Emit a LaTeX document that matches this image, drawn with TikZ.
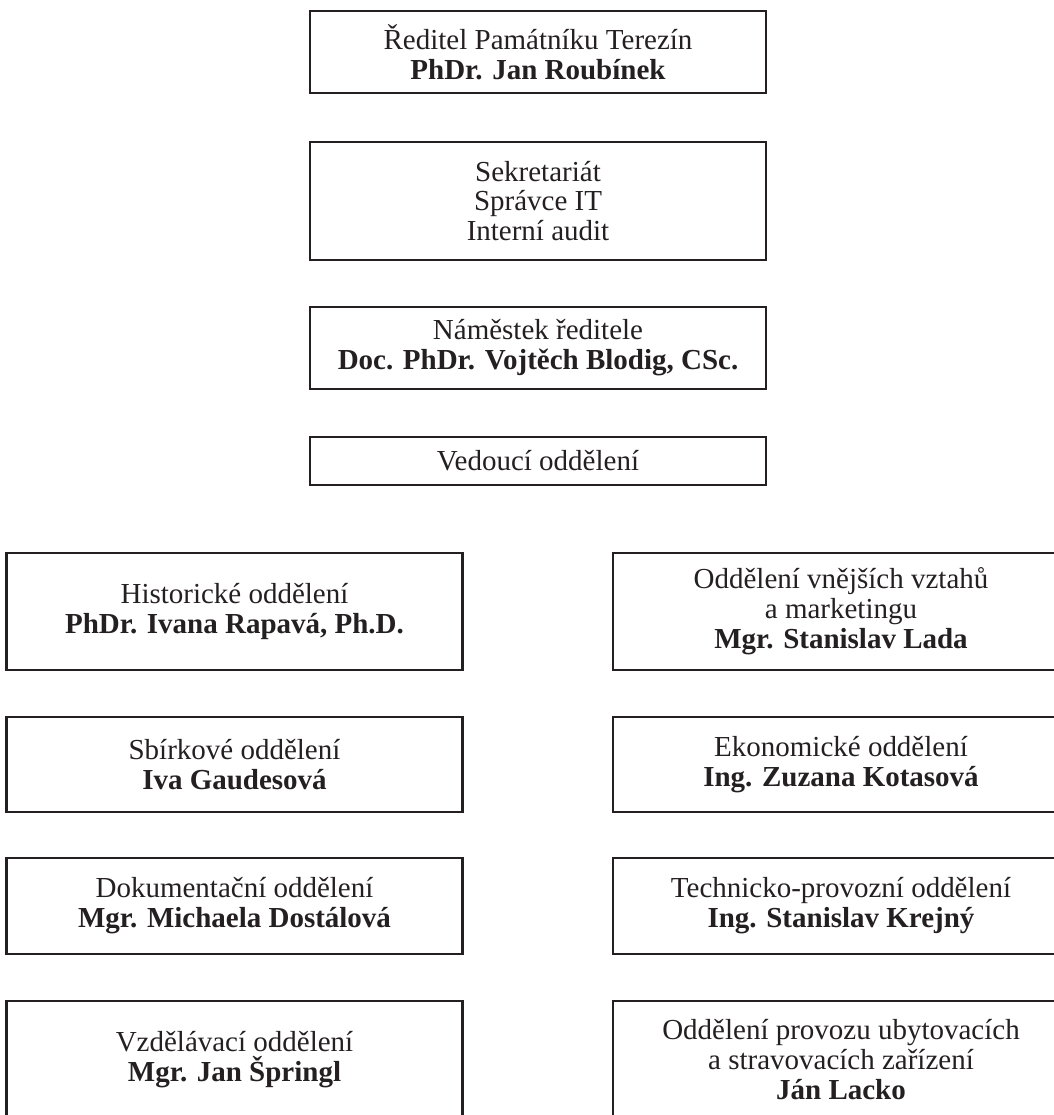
\documentclass[tikz,border=0pt]{standalone}
\usepackage{fontspec}
\setmainfont{Liberation Serif}
\definecolor{boxgray}{rgb}{0.14,0.12,0.13}
\begin{document}
\begin{tikzpicture}[x=0.02cm,y=-0.02cm,
		box/.style={draw=boxgray, line width=1.4pt, align=center, inner sep=0pt,
			minimum width=9.12cm, text=boxgray, font=\fontsize{16.5}{17}\selectfont}]
		\useasboundingbox (0,0) rectangle (1054,1115);
		\clip (0,0) rectangle (1054,1115);

		% vedeni
		\node[box, minimum height=1.64cm] (dir) at (538, 52) {Ředitel Památníku Terezín\\ \textbf{PhDr. Jan Roubínek}};
		\node[box, minimum height=2.36cm] (sekr) at (538, 201) {Sekretariát\\ Správce IT\\ Interní audit};
		\node[box, minimum height=1.64cm] (nam) at (538, 348) {Náměstek ředitele\\ \textbf{Doc. PhDr. Vojtěch Blodig, CSc.}};
		\node[box, minimum height=0.96cm] (ved) at (538, 461) {Vedoucí oddělení};

		% levy sloupec
		\node[box, minimum height=2.34cm] (hist) at (234.5, 611.5) {Historické oddělení\\ \textbf{PhDr. Ivana Rapavá, Ph.D.}};
		\node[box, minimum height=1.9cm] (sbir) at (234.5, 764.5) {Sbírkové oddělení\\ \textbf{Iva Gaudesová}};
		\node[box, minimum height=1.92cm] (dok) at (234.5, 906) {Dokumentační oddělení\\ \textbf{Mgr. Michaela Dostálová}};
		\node[box, minimum height=2.34cm] (vzd) at (234.5, 1059.5) {Vzdělávací oddělení\\ \textbf{Mgr. Jan Špringl}};

		% pravy sloupec
		\node[box, minimum height=2.34cm] (vnej) at (841, 611.5) {Oddělení vnějších vztahů\\ a marketingu\\ \textbf{Mgr. Stanislav Lada}};
		\node[box, minimum height=1.9cm] (eko) at (841, 764.5) {Ekonomické oddělení\\ \textbf{Ing. Zuzana Kotasová}};
		\node[box, minimum height=1.92cm] (tech) at (841, 906) {Technicko-provozní oddělení\\ \textbf{Ing. Stanislav Krejný}};
		\node[box, minimum height=2.34cm] (ubyt) at (841, 1059.5) {Oddělení provozu ubytovacích\\ a stravovacích zařízení\\ \textbf{Ján Lacko}};
	\end{tikzpicture}
\end{document}
